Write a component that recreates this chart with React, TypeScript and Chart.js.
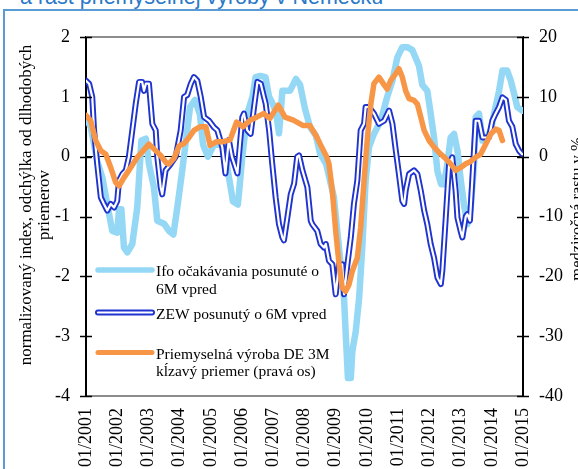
import React, { useEffect, useRef } from 'react';
import { Chart, registerables } from 'chart.js';

Chart.register(...registerables);

// ---------- data ----------
const xTickLabels = ['01/2001', '01/2002', '01/2003', '01/2004', '01/2005', '01/2006', '01/2007', '01/2008', '01/2009', '01/2010', '01/2011', '01/2012', '01/2013', '01/2014', '01/2015'];

// months since 01/2001
const ifoMonths = [0, 1.8, 4.3, 6.3, 8.2, 10.1, 12.0, 12.7, 13.6, 14.6, 15.9, 17.8, 19.7, 21.3, 23.0, 24.2, 26.1, 27.4, 30.0, 31.9, 33.6, 35.1, 37.0, 38.9, 40.0, 41.9, 43.8, 45.0, 46.9, 49.2, 52.3, 54.0, 56.5, 58.4, 60.1, 62.0, 64.0, 65.2, 67.0, 69.0, 70.4, 71.6, 73.0, 74.2, 75.5, 78.4, 80.7, 82.3, 84.2, 86.1, 88.4, 90.0, 92.3, 95.3, 96.6, 97.9, 99.2, 99.8, 100.7, 101.8, 102.4, 103.7, 105.0, 106.2, 107.5, 108.8, 110.7, 113.3, 115.8, 117.8, 119.7, 121.6, 123.5, 125.5, 128.0, 129.3, 131.2, 132.5, 133.8, 135.1, 136.5, 137.6, 138.9, 140.2, 141.5, 142.8, 144.1, 145.3, 146.6, 147.9, 149.2, 149.8, 151.1, 152.4, 153.7, 155.6, 156.9, 158.8, 160.1, 161.9, 163.3, 164.6, 165.8, 167.7];
const ifoValues = [0.63, 0.5, -0.07, -0.35, -0.8, -1.24, -1.27, -0.88, -0.88, -1.52, -1.6, -1.46, -0.85, 0.27, 0.3, -0.12, -0.51, -1.07, -1.12, -1.24, -1.3, -0.85, -0.23, 0.44, 0.83, 0.95, 0.7, 0.2, 0.0, 0.2, 0.2, -0.1, -0.75, -0.8, 0.0, 0.72, 1.0, 1.33, 1.35, 1.33, 1.0, 0.9, 0.75, 0.39, 1.1, 1.1, 1.3, 1.2, 0.8, 0.5, 0.35, 0.05, -0.12, -0.68, -1.24, -1.8, -2.36, -2.92, -3.7, -3.7, -3.25, -2.92, -2.36, -1.52, -0.4, 0.16, 0.38, 0.6, 1.0, 1.27, 1.66, 1.83, 1.83, 1.78, 1.52, 1.2, 1.1, 0.72, 0.32, -0.24, -0.46, -0.46, -0.12, 0.32, 0.38, 0.1, -0.4, -0.8, -1.13, -0.85, -0.12, 0.66, 0.72, 0.27, 0.27, 0.44, 0.72, 1.1, 1.44, 1.44, 1.27, 1.05, 0.83, 0.77];

const zewMonths = [0, 1.2, 2.4, 3.1, 4.3, 5.7, 6.9, 8.2, 9.5, 10.8, 12.0, 12.7, 14.0, 15.3, 16.5, 17.8, 19.1, 20.4, 21.6, 22.3, 23.0, 24.2, 25.5, 26.8, 27.4, 28.7, 29.3, 30.6, 32.6, 34.5, 36.4, 37.7, 38.9, 40.3, 41.5, 42.8, 44.1, 45.4, 47.3, 49.2, 50.5, 52.4, 53.6, 54.9, 56.1, 58.2, 60.1, 60.7, 62.0, 63.3, 64.6, 65.9, 67.2, 68.4, 69.1, 70.4, 71.6, 72.9, 74.2, 75.5, 76.1, 77.4, 78.7, 80.0, 81.2, 81.9, 83.2, 85.1, 86.4, 87.0, 88.9, 90.2, 91.5, 92.2, 93.4, 94.7, 96.0, 97.3, 98.5, 99.2, 100.5, 101.8, 103.0, 104.3, 105.6, 106.9, 107.5, 108.8, 110.7, 112.6, 114.6, 116.5, 117.8, 119.1, 120.3, 121.6, 122.3, 122.9, 124.2, 126.1, 127.4, 128.7, 130.0, 131.2, 132.5, 133.8, 135.1, 136.4, 137.0, 138.3, 139.6, 140.8, 142.1, 142.8, 144.0, 144.7, 146.0, 146.6, 147.6, 148.5, 149.8, 151.1, 152.4, 154.9, 156.2, 157.5, 158.8, 160.1, 161.4, 162.6, 163.9, 165.2, 166.5, 167.7];
const zewValues = [1.27, 1.22, 1.0, 0.44, -0.12, -0.68, -0.79, -0.9, -0.79, -0.85, -0.74, -0.4, -0.29, -0.23, 0.0, 0.44, 0.88, 1.25, 1.25, 1.1, 1.22, 1.22, 0.55, 0.44, 0.0, -0.51, -0.63, -0.23, -0.12, 0.0, 0.44, 1.0, 1.03, 1.22, 1.33, 1.27, 1.0, 0.66, 0.6, 0.49, 0.44, 0.16, -0.28, 0.28, 0.0, -0.28, 0.66, 0.72, 0.44, 0.38, 0.83, 1.25, 1.22, 1.0, 0.88, 0.44, -0.12, -0.68, -1.13, -1.35, -1.4, -1.02, -0.63, -0.45, 0.0, 0.02, -0.23, -0.51, -1.07, -1.13, -1.24, -1.46, -1.52, -1.46, -1.74, -1.8, -2.3, -1.8, -1.8, -2.3, -1.8, -1.35, -0.79, -0.4, 0.44, 0.55, 0.83, 0.83, 0.72, 0.55, 0.6, 0.77, 0.55, 0.1, -0.29, -0.74, -0.79, -0.57, -0.29, -0.23, -0.29, -0.57, -0.9, -1.13, -1.46, -1.69, -2.02, -2.13, -1.9, -1.02, -0.12, -0.01, -0.57, -1.02, -1.24, -1.35, -1.0, -0.96, -1.07, -0.4, 0.6, 0.6, 0.32, 0.32, 0.6, 0.72, 0.83, 0.99, 0.95, 0.6, 0.5, 0.21, 0.1, 0.04];

const ipMonths = [0, 1.8, 3.7, 5.7, 7.6, 9.5, 11.4, 12.7, 14.6, 17.2, 19.7, 21.6, 24.2, 26.1, 28.7, 30.8, 31.9, 33.8, 35.8, 37.7, 39.6, 41.5, 43.8, 46.1, 47.7, 50.2, 52.7, 55.4, 57.9, 60.4, 63.1, 65.6, 68.2, 70.7, 73.9, 76.5, 79.7, 83.5, 86.1, 88.7, 90.6, 92.5, 93.4, 94.7, 96.0, 97.3, 98.5, 99.8, 101.1, 102.4, 104.3, 105.6, 106.9, 108.2, 109.5, 110.7, 112.6, 114.6, 115.8, 117.1, 119.1, 120.3, 121.6, 122.9, 124.2, 126.1, 127.4, 128.7, 130.0, 131.9, 133.8, 135.7, 138.0, 140.2, 142.1, 144.1, 146.0, 147.9, 149.8, 151.7, 153.7, 155.6, 157.5, 158.8, 160.1];
const ipValues = [6.9, 6.0, 2.7, 1.0, 0.4, -1.8, -4.3, -4.9, -3.5, -1.8, -0.1, 0.8, 2.1, 1.3, 0.2, -1.0, -1.2, -0.3, 1.8, 2.2, 3.2, 4.4, 5.0, 5.0, 1.9, 2.5, 2.5, 2.8, 5.8, 5.0, 6.1, 6.6, 7.2, 6.4, 8.6, 6.6, 6.1, 5.2, 5.2, 3.3, 1.6, 0.0, -1.2, -5.7, -12.4, -18.0, -21.9, -22.5, -21.4, -19.1, -16.9, -11.8, -4.0, 3.2, 8.8, 12.2, 13.3, 12.0, 11.3, 12.7, 13.9, 14.7, 13.3, 11.0, 9.7, 9.4, 8.8, 6.6, 4.4, 2.7, 1.6, 0.7, -0.2, -1.2, -2.3, -1.8, -1.2, -0.8, -0.1, 0.4, 2.1, 3.8, 4.6, 4.4, 2.7];

const seriesNames = ['Ifo očakávania posunuté o 6M vpred', 'ZEW posunutý o 6M vpred', 'Priemyselná výroba DE 3M kĺzavý priemer (pravá os)'];
const legendLines = [
  ['Ifo očakávania posunuté o', '6M vpred'],
  ['ZEW posunutý o 6M vpred'],
  ['Priemyselná výroba DE 3M', 'kĺzavý priemer (pravá os)'],
];
const leftTitleLines = ['normalizovaný index, odchýlka od dlhodobých', 'priemerov'];
const rightTitle = 'medziročná rastu v %';
const chartTitle = 'a rast priemyselnej výroby v Nemecku';

const zip = (xs: number[], ys: number[]) => xs.map((x, i) => ({ x, y: ys[i] }));

const SERIF = "'Liberation Serif', 'Times New Roman', serif";
const IFO_COLOR = '#95d8f5';
const ZEW_COLOR = '#1f33cf';
const IP_COLOR = '#f79646';

const CANVAS_W = 590;
const CANVAS_H = 469;

const decorPlugin = {
  id: 'decor',
  afterDraw(chart: any) {
    const { ctx, chartArea } = chart;
    const { left, right, top } = chartArea;
    const yScale = chart.scales.y;
    const y1Scale = chart.scales.y1;
    ctx.save();
    // top border
    ctx.strokeStyle = '#8c8c8c';
    ctx.lineWidth = 2;
    ctx.beginPath();
    ctx.moveTo(left, top);
    ctx.lineTo(right, top);
    ctx.stroke();
    // cross tick marks
    ctx.strokeStyle = '#000';
    ctx.lineWidth = 1.5;
    yScale.ticks.forEach((t: any) => {
      const py = Math.round(yScale.getPixelForValue(t.value)) + 0.5;
      ctx.beginPath();
      ctx.moveTo(left - 6, py);
      ctx.lineTo(left + 6, py);
      ctx.stroke();
    });
    y1Scale.ticks.forEach((t: any) => {
      const py = Math.round(y1Scale.getPixelForValue(t.value)) + 0.5;
      ctx.beginPath();
      ctx.moveTo(right - 6, py);
      ctx.lineTo(right + 6, py);
      ctx.stroke();
    });

    // legend
    const sx0 = left + 12;
    const sx1 = left + 66;
    const tx = left + 70;
    const rows = [270, 312.5, 352.5];
    ctx.lineCap = 'round';
    rows.forEach((ry, i) => {
      if (i === 0) {
        ctx.strokeStyle = IFO_COLOR;
        ctx.lineWidth = 5.5;
        ctx.beginPath(); ctx.moveTo(sx0, ry); ctx.lineTo(sx1, ry); ctx.stroke();
      } else if (i === 1) {
        ctx.strokeStyle = ZEW_COLOR;
        ctx.lineWidth = 6;
        ctx.beginPath(); ctx.moveTo(sx0, ry); ctx.lineTo(sx1, ry); ctx.stroke();
        ctx.strokeStyle = '#fff';
        ctx.lineWidth = 2.2;
        ctx.beginPath(); ctx.moveTo(sx0, ry); ctx.lineTo(sx1, ry); ctx.stroke();
      } else {
        ctx.strokeStyle = IP_COLOR;
        ctx.lineWidth = 5;
        ctx.beginPath(); ctx.moveTo(sx0, ry); ctx.lineTo(sx1, ry); ctx.stroke();
      }
      ctx.fillStyle = '#000';
      ctx.font = `15.5px ${SERIF}`;
      ctx.textAlign = 'left';
      ctx.textBaseline = 'alphabetic';
      legendLines[i].forEach((line, j) => {
        ctx.fillText(line, tx, ry + 6.3 + j * 17.5);
      });
    });

    // left axis title
    ctx.font = `17px ${SERIF}`;
    ctx.textAlign = 'center';
    ctx.textBaseline = 'alphabetic';
    leftTitleLines.forEach((line, j) => {
      ctx.save();
      ctx.translate(31 + j * 18, 205);
      ctx.rotate(-Math.PI / 2);
      ctx.fillText(line, 0, 0);
      ctx.restore();
    });
    // right axis title
    ctx.font = `16.5px ${SERIF}`;
    ctx.save();
    ctx.translate(582, 209);
    ctx.rotate(-Math.PI / 2);
    ctx.fillText(rightTitle, 0, 0);
    ctx.restore();

    ctx.restore();
  },
};

export default function App() {
  const ref = useRef<HTMLCanvasElement>(null);
  useEffect(() => {
    const canvas = ref.current;
    if (!canvas) return;
    const tickFont = { family: SERIF, size: 18 };
    const chart = new Chart(canvas, {
      type: 'line',
      data: {
        datasets: [
          {
            label: seriesNames[2],
            data: zip(ipMonths, ipValues),
            yAxisID: 'y1',
            borderColor: IP_COLOR,
            borderWidth: 5.5,
            pointRadius: 0,
            borderJoinStyle: 'round',
            borderCapStyle: 'round',
            tension: 0,
            order: 0,
          },
          {
            label: seriesNames[1] + ' (inner)',
            data: zip(zewMonths, zewValues),
            yAxisID: 'y',
            borderColor: '#ffffff',
            borderWidth: 2.2,
            pointRadius: 0,
            borderJoinStyle: 'round',
            borderCapStyle: 'round',
            tension: 0,
            order: 1,
          },
          {
            label: seriesNames[1],
            data: zip(zewMonths, zewValues),
            yAxisID: 'y',
            borderColor: ZEW_COLOR,
            borderWidth: 6,
            pointRadius: 0,
            borderJoinStyle: 'round',
            borderCapStyle: 'round',
            tension: 0,
            order: 2,
          },
          {
            label: seriesNames[0],
            data: zip(ifoMonths, ifoValues),
            yAxisID: 'y',
            borderColor: IFO_COLOR,
            borderWidth: 6.5,
            pointRadius: 0,
            borderJoinStyle: 'round',
            borderCapStyle: 'round',
            tension: 0,
            order: 3,
          },
        ],
      },
      options: {
        responsive: false,
        animation: false,
        devicePixelRatio: 1,
        layout: { padding: { top: 37, left: 0, right: 0, bottom: 0 } },
        plugins: { legend: { display: false }, tooltip: { enabled: false }, title: { display: false } },
        scales: {
          x: {
            type: 'linear',
            min: 0,
            max: (xTickLabels.length - 1) * 12,
            afterBuildTicks: (s: any) => {
              s.ticks = xTickLabels.map((_, i) => ({ value: i * 12 }));
            },
            afterFit: (s: any) => {
              s.height = CANVAS_H - 396;
            },
            ticks: {
              autoSkip: false,
              minRotation: 90,
              maxRotation: 90,
              padding: 12,
              color: '#000',
              font: tickFont,
              callback: (v: any) => xTickLabels[Math.round(Number(v) / 12)],
            },
            grid: { display: false, drawTicks: false },
            border: { color: '#8c8c8c', width: 2 },
          },
          y: {
            position: 'left',
            min: -4,
            max: 2,
            afterFit: (s: any) => {
              s.width = 86;
            },
            ticks: { stepSize: 1, padding: 16, color: '#000', font: tickFont },
            grid: {
              drawTicks: false,
              color: (c: any) => (c.tick && c.tick.value === 0 ? '#000' : 'rgba(0,0,0,0)'),
              lineWidth: 1,
            },
            border: { color: '#000', width: 2 },
          },
          y1: {
            position: 'right',
            min: -40,
            max: 20,
            afterFit: (s: any) => {
              s.width = CANVAS_W - 523;
            },
            ticks: { stepSize: 10, padding: 16, color: '#000', font: tickFont },
            grid: { display: false, drawTicks: false },
            border: { color: '#000', width: 2 },
          },
        },
      },
      plugins: [decorPlugin],
    } as any);
    return () => chart.destroy();
  }, []);

  return (
    <div style={{ position: 'fixed', left: 0, top: 0, width: 578, height: 469, overflow: 'hidden', background: '#fff' }}>
      <div
        style={{
          position: 'absolute',
          left: 20,
          top: -13,
          fontFamily: "'Liberation Sans', Arial, sans-serif",
          fontSize: 21.5,
          lineHeight: 1,
          color: '#2a78c8',
          whiteSpace: 'nowrap',
        }}
      >
        {chartTitle}
      </div>
      <div
        style={{
          position: 'absolute',
          left: 3,
          top: 9,
          width: 700,
          height: 700,
          border: '2px solid #5b9bd5',
          boxSizing: 'border-box',
        }}
      />
      <canvas
        ref={ref}
        width={CANVAS_W}
        height={CANVAS_H}
        style={{ position: 'absolute', left: 0, top: 0, width: CANVAS_W, height: CANVAS_H }}
      />
    </div>
  );
}
